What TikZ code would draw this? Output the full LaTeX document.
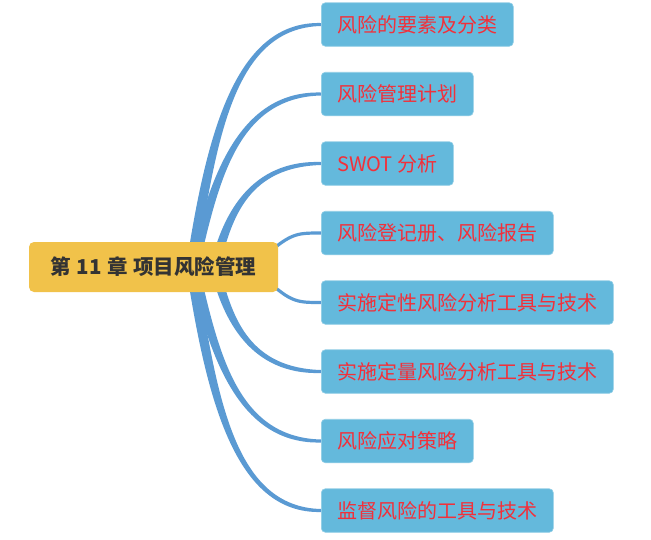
\documentclass[tikz,border=0pt]{standalone}
\usepackage{fontspec}
\newfontfamily\cjk{Noto Sans CJK SC}
\usetikzlibrary{calc}
\definecolor{linkc}{HTML}{5A9AD3}
\definecolor{boxc}{HTML}{64B9DC}
\definecolor{redc}{HTML}{F2303A}
\definecolor{rootc}{HTML}{F1C24A}
\definecolor{roottext}{HTML}{333333}
\pgfdeclarelayer{bg}
\pgfsetlayers{bg,main}
\tikzset{
  branch/.style={fill=boxc, draw=boxc!70!white, line width=0.6pt, rounded corners=4pt,
    text=redc, font=\cjk\fontsize{20}{24}\selectfont, inner xsep=16pt, inner ysep=0pt,
    minimum height=43.5pt, text height=16.6pt, text depth=1.4pt, anchor=west},
  rootbox/.style={fill=rootc, rounded corners=5pt, text=roottext,
    font=\cjk\bfseries\fontsize{20.5}{24}\selectfont, minimum width=249pt, minimum height=50pt,
    inner sep=0pt, text height=17pt, text depth=1.4pt},
  linkfill/.style={fill=linkc},
  linkline/.style={draw=linkc, line width=3.2pt}
}
% #1 target, #2 start offset from root centre, #3 first control offset from root centre,
% #4 second control x offset from target west, #5 half width at start, #6 direction (1 up, -1 down)
\newcommand\taperlink[6]{%
  \fill[linkfill] let \p1=($(root.center)+#2$), \p2=($(root.center)+#3$), \p3=($(#1.west)+(#4,0)$),
    \p4=(#1.west), \n1={#5}, \n2={1.5pt}, \n3={3.6pt} in
  (\x1-\n1,\y1) .. controls (\x2-\n1,\y2) and (\x3,\y3+#6*\n3) .. (\x4,\y4+#6*\n2)
  -- (\x4,\y4-#6*\n2) .. controls (\x3,\y3-#6*\n3) and (\x2+\n1,\y2) .. (\x1+\n1,\y1) -- cycle;}
\begin{document}
\begin{tikzpicture}[x=1pt,y=-1pt]
\begin{pgfonlayer}{bg}
\fill[white] (0,0) rectangle (651,539);
\end{pgfonlayer}
\useasboundingbox (0,0) rectangle (651,539);
\node[rootbox] (root) at (153.5,267) {第\hspace{5.5pt}11\hspace{5.5pt}章\hspace{5.5pt}项目风险管理};
\node[branch] (n1) at (321,24.5) {风险的要素及分类};
\node[branch] (n2) at (321,94) {风险管理计划};
\node[branch] (n3) at (321,163.5) {SWOT 分析};
\node[branch] (n4) at (321,233) {风险登记册、风险报告};
\node[branch] (n5) at (321,302.5) {实施定性风险分析工具与技术};
\node[branch] (n6) at (321,371.5) {实施定量风险分析工具与技术};
\node[branch] (n7) at (321,441) {风险应对策略};
\node[branch] (n8) at (321,510.5) {监督风险的工具与技术};
\begin{pgfonlayer}{bg}
\taperlink{n1}{(38.5,-5)}{(58.5,-132)}{-86}{5.2pt}{1}
\taperlink{n2}{(41.5,-5)}{(61.5,-92)}{-81}{5pt}{1}
\taperlink{n3}{(62.5,-5)}{(74.5,-52)}{-71}{4.8pt}{1}
\taperlink{n6}{(62.5,5)}{(74.5,52)}{-71}{4.8pt}{-1}
\taperlink{n7}{(41.5,5)}{(61.5,92)}{-81}{5pt}{-1}
\taperlink{n8}{(38.5,5)}{(58.5,132)}{-86}{5.2pt}{-1}
\draw[linkline] ($(root.east)+(-20,-5)$) .. controls ($(root.east)+(12,-34)$) and ($(n4.west)+(-26,0)$) .. (n4.west);
\draw[linkline] ($(root.east)+(-20,5)$) .. controls ($(root.east)+(12,35.5)$) and ($(n5.west)+(-26,0)$) .. (n5.west);
\end{pgfonlayer}
\end{tikzpicture}
\end{document}
